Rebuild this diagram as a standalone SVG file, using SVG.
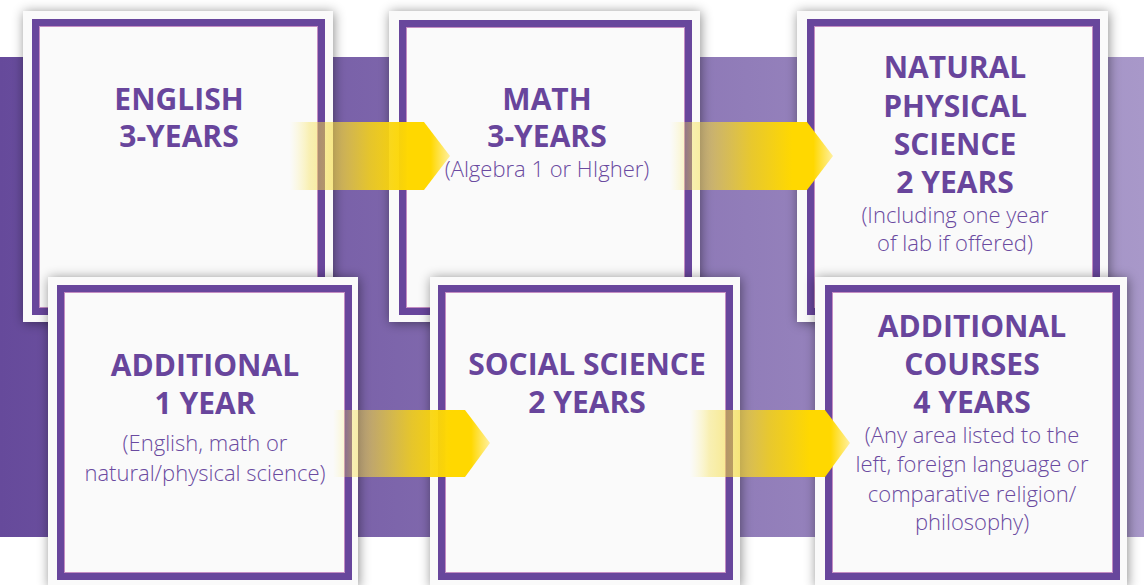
<svg xmlns="http://www.w3.org/2000/svg" width="1144" height="585" viewBox="0 0 1144 585">
<defs>
<linearGradient id="band" x1="0" y1="0" x2="1" y2="0">
<stop offset="0" stop-color="#664a9b"/>
<stop offset="1" stop-color="#a898c9"/>
</linearGradient>
<linearGradient id="arrowGrad" x1="0" y1="0" x2="1" y2="0">
<stop offset="0" stop-color="#fff27a" stop-opacity="0"/>
<stop offset="0.12" stop-color="#f6e04a" stop-opacity="0.4"/>
<stop offset="0.5" stop-color="#f4d21a" stop-opacity="0.88"/>
<stop offset="0.75" stop-color="#ffd800" stop-opacity="1"/>
<stop offset="0.88" stop-color="#ffd800" stop-opacity="1"/>
<stop offset="1" stop-color="#fff0a0" stop-opacity="1"/>
</linearGradient>
<filter id="shadow" x="-10%" y="-10%" width="120%" height="120%">
<feDropShadow dx="1" dy="1" stdDeviation="6" flood-color="#000" flood-opacity="0.45"/>
</filter>
</defs>
<style>
.card{fill:#fafafa;filter:url(#shadow);}
.frame{fill:none;stroke:#68469c;stroke-width:7;}
.inner{fill:none;stroke:#a0449e;stroke-width:1;stroke-opacity:0.6;}
.h{font-family:"Open Sans","Liberation Sans",sans-serif;font-weight:700;font-size:30px;fill:#68459c;text-anchor:middle;}
.s{font-family:"Open Sans","Liberation Sans",sans-serif;font-weight:300;font-size:22px;fill:#6a4aa0;text-anchor:middle;}
.arrow{fill:url(#arrowGrad);}
</style>
<rect x="0" y="57" width="1144" height="480" fill="url(#band)"/>

<g id="card-english">
<rect class="card" x="23" y="11" width="310" height="311"/>
<rect class="frame" x="35.5" y="22.5" width="286" height="289"/>
<rect class="inner" x="39.5" y="26.5" width="278" height="281"/>
<text class="h" x="179" y="110">ENGLISH</text>
<text class="h" x="179" y="147">3-YEARS</text>
</g>

<g id="card-math">
<rect class="card" x="389" y="11" width="311" height="311"/>
<rect class="frame" x="402.5" y="23.5" width="286" height="288"/>
<rect class="inner" x="406.5" y="27.5" width="278" height="280"/>
<text class="h" x="547" y="110">MATH</text>
<text class="h" x="547" y="147">3-YEARS</text>
<text class="s" x="547" y="177">(Algebra 1 or HIgher)</text>
</g>

<g id="card-science">
<rect class="card" x="797" y="11" width="311" height="311"/>
<rect class="frame" x="810.5" y="22.5" width="286" height="289"/>
<rect class="inner" x="814.5" y="26.5" width="278" height="281"/>
<text class="h" x="955" y="78">NATURAL</text>
<text class="h" x="955" y="117">PHYSICAL</text>
<text class="h" x="955" y="155">SCIENCE</text>
<text class="h" x="955" y="193">2 YEARS</text>
<text class="s" x="955" y="223">(Including one year</text>
<text class="s" x="955" y="251">of lab if offered)</text>
</g>

<g id="card-additional">
<rect class="card" x="48" y="277" width="310" height="310"/>
<rect class="frame" x="60.5" y="288.5" width="288" height="288"/>
<rect class="inner" x="64.5" y="292.5" width="280" height="280"/>
<text class="h" x="205" y="376">ADDITIONAL</text>
<text class="h" x="205" y="414">1 YEAR</text>
<text class="s" x="205" y="451">(English, math or</text>
<text class="s" x="205" y="481">natural/physical science)</text>
</g>

<g id="card-social">
<rect class="card" x="430" y="277" width="310" height="310"/>
<rect class="frame" x="441.5" y="288.5" width="288" height="288"/>
<rect class="inner" x="445.5" y="292.5" width="280" height="280"/>
<text class="h" x="587" y="375">SOCIAL SCIENCE</text>
<text class="h" x="587" y="413">2 YEARS</text>
</g>

<g id="card-courses">
<rect class="card" x="815" y="277" width="312" height="310"/>
<rect class="frame" x="828.5" y="288.5" width="288" height="288"/>
<rect class="inner" x="832.5" y="292.5" width="280" height="280"/>
<text class="h" x="972" y="337">ADDITIONAL</text>
<text class="h" x="972" y="375">COURSES</text>
<text class="h" x="972" y="413">4 YEARS</text>
<text class="s" x="972" y="443">(Any area listed to the</text>
<text class="s" x="972" y="472">left, foreign language or</text>
<text class="s" x="972" y="502">comparative religion/</text>
<text class="s" x="972" y="530">philosophy)</text>
</g>

<g id="connectors">
<path class="arrow" d="M290,122 H424 L450,156 L424,190 H290 Z"/>
<path class="arrow" d="M670,122 H807 L833,156 L807,190 H670 Z"/>
<path class="arrow" d="M333,410 H465 L490,443 L465,477 H333 Z"/>
<path class="arrow" d="M690,410 H825 L850,443 L825,477 H690 Z"/>
</g>
</svg>
